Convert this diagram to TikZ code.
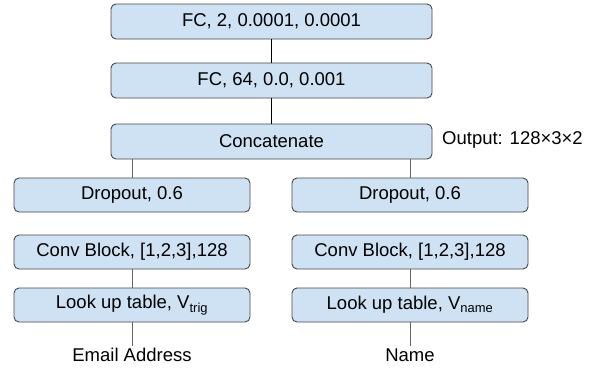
\documentclass[tikz,border=0pt]{standalone}
\usepackage{fontspec}
\setmainfont{Liberation Sans}
\usetikzlibrary{positioning}
\definecolor{layerblue}{RGB}{207, 226, 243}
\definecolor{layeredge}{RGB}{70, 70, 70}
\definecolor{linkgrey}{RGB}{100, 100, 100}

\tikzset{
    layer/.style={draw=layeredge, fill=layerblue, rounded corners=5pt, line width=0.9pt,
                  minimum height=35pt, inner sep=0pt, font=\fontsize{18.5}{22}\selectfont},
    widelayer/.style={layer, minimum width=321pt},
    branchlayer/.style={layer, minimum width=236pt, minimum height=34pt},
    toplink/.style={draw=black, line width=1.6pt},
    sublink/.style={draw=linkgrey, line width=0.9pt},
    inputlabel/.style={font=\fontsize{18.5}{22}\selectfont, inner sep=2pt}
}

\begin{document}
\begin{tikzpicture}[x=1pt, y=1pt]
        \useasboundingbox (0,0) rectangle (599,-370);

        % shared trunk
        \node[widelayer] (fctwo) at (271.5,-21.5) {FC, 2, 0.0001, 0.0001};
        \node[widelayer] (fcsixtyfour) at (271.5,-80.5) {FC, 64, 0.0, 0.001};
        \node[widelayer] (concat) at (271.5,-141.5) {Concatenate};
        \node[font=\fontsize{18.5}{22}\selectfont, anchor=west, inner sep=0pt] (outsize) at (442,-140) {Output: 128×3×2};

        % email branch
        \node[branchlayer] (dropemail) at (132,-195) {Dropout, 0.6};
        \node[branchlayer] (convemail) at (132,-252) {Conv Block, [1,2,3],128};
        \node[branchlayer] (lookemail) at (132,-305) {Look up table, V\textsubscript{trig}};
        \node[inputlabel] (email) at (132,-355) {Email Address};

        % name branch
        \node[branchlayer] (dropname) at (410,-195) {Dropout, 0.6};
        \node[branchlayer] (convname) at (410,-252) {Conv Block, [1,2,3],128};
        \node[branchlayer] (lookname) at (410,-305) {Look up table, V\textsubscript{name}};
        \node[inputlabel] (name) at (410,-355) {Name};

        % connections
        \draw[toplink] (fctwo) -- (fcsixtyfour);
        \draw[toplink] (fcsixtyfour) -- (concat);
        \draw[sublink] (dropemail.north) -- (dropemail.north |- concat.south);
        \draw[sublink] (dropname.north) -- (dropname.north |- concat.south);
        \draw[sublink] (convemail) -- (lookemail);
        \draw[sublink] (convname) -- (lookname);
        \draw[sublink] (lookemail) -- (email);
        \draw[sublink] (lookname) -- (name);
    \end{tikzpicture}
\end{document}
